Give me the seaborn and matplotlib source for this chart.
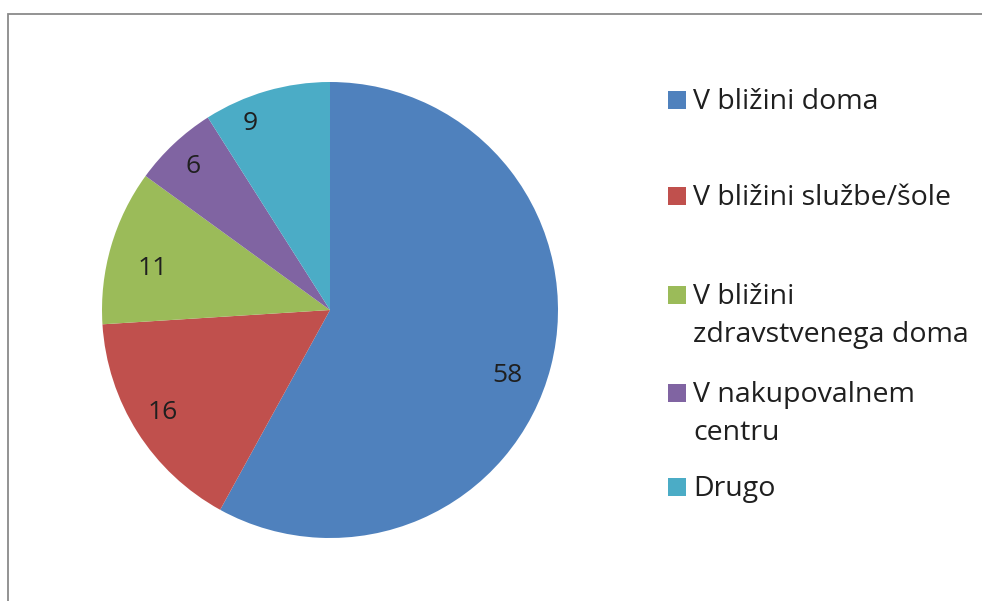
import matplotlib
matplotlib.use("Agg")
import matplotlib.pyplot as plt
import seaborn as sns
import numpy as np
from matplotlib.patches import Rectangle

# data
categories = ["V bližini doma", "V bližini službe/šole", "V bližini\nzdravstvenega doma",
              "V nakupovalnem\ncentru", "Drugo"]
values = [58, 16, 11, 6, 9]
colors = ["#4F81BD", "#C0504D", "#9BBB59", "#8064A2", "#4BACC6"]

sns.set_theme(style="white")
plt.rcParams["font.family"] = ["Open Sans", "DejaVu Sans"]

W, H = 982, 601
fig = plt.figure(figsize=(W / 100, H / 100), dpi=100)

# outer chart border (cropped at right/bottom)
fig.patches.append(Rectangle((8 / W, -0.05), 1.2, 1 - 14 / H + 0.05, transform=fig.transFigure,
                             fill=False, edgecolor="#8a8a8a", linewidth=1.3))

cx, cy, r = 330, 310, 228
ax = fig.add_axes([(cx - r) / W, (H - cy - r) / H, 2 * r / W, 2 * r / H])
palette = sns.color_palette(colors)
wedges, _ = ax.pie(values, colors=palette, startangle=90, counterclock=False,
                   wedgeprops=dict(edgecolor="none", linewidth=0))

# Excel's "best fit" label spots: small angle nudge / radius per slice
nudge = [-6, -1, 3, 0.5, 7]
dist = [0.83, 0.86, 0.80, 0.87, 0.89]
for w, v, dn, d in zip(wedges, values, nudge, dist):
    ang = np.deg2rad((w.theta1 + w.theta2) / 2 + dn)
    ax.text(d * np.cos(ang), d * np.sin(ang), str(v), fontsize=19, color="#1f1f1f",
            ha="center", va="center")

ax.set_xlim(-1, 1)
ax.set_ylim(-1, 1)
ax.set_aspect("equal")
ax.axis("off")

# legend, laid out like the original
leg_y = [100, 196, 295, 393, 487]
line_pitch = 38
for lab, col, y in zip(categories, palette, leg_y):
    fig.patches.append(Rectangle((668 / W, (H - y - 9) / H), 18 / W, 18 / H,
                                 transform=fig.transFigure, facecolor=col, edgecolor="none"))
    for i, line in enumerate(lab.split("\n")):
        fig.text(693 / W, (H - y - 9 - i * line_pitch) / H, line, fontsize=20.5,
                 color="#1f1f1f", va="baseline", ha="left", transform=fig.transFigure)

fig.savefig("out.png", dpi=100)
